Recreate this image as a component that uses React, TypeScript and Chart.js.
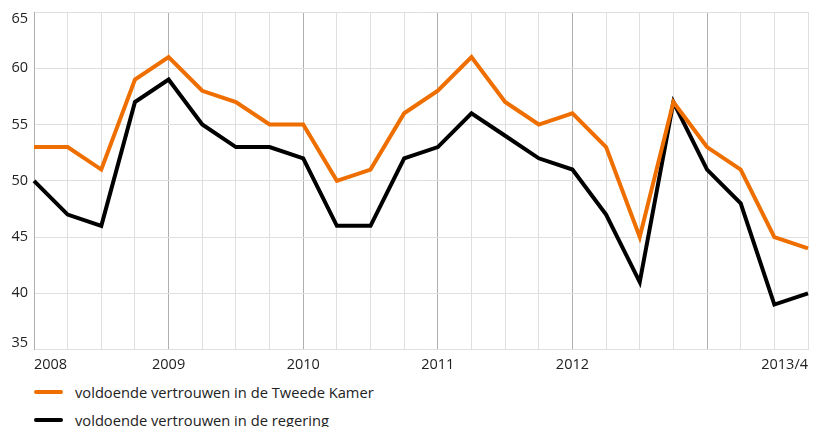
import React, { useEffect, useRef } from "react";
import { Chart, registerables } from "chart.js";

Chart.register(...registerables);

const categories = [
  "2008", "", "", "",
  "2009", "", "", "",
  "2010", "", "", "",
  "2011", "", "", "",
  "2012", "", "", "",
  "", "", "", "2013/4",
];
const yearLineIdx = [4, 8, 12, 16, 20];
const tweedeKamer = [53, 53, 51, 59, 61, 58, 57, 55, 55, 50, 51, 56, 58, 61, 57, 55, 56, 53, 45, 57, 53, 51, 45, 44];
const regering = [50, 47, 46, 57, 59, 55, 53, 53, 52, 46, 46, 52, 53, 56, 54, 52, 51, 47, 41, 57, 51, 48, 39, 40];
const seriesNames = ["voldoende vertrouwen in de Tweede Kamer", "voldoende vertrouwen in de regering"];
const seriesColors = ["#ee6f00", "#000000"];
const yMin = 35;
const yMax = 65;
const yStep = 5;

const FONT = "'Open Sans', 'Noto Sans', sans-serif";

const yLabelPlugin = {
  id: "yLabels",
  afterDraw(chart: any) {
    const ctx = chart.ctx;
    const y = chart.scales.y;
    const ticks = y.ticks;
    ctx.save();
    ctx.font = `14.5px ${FONT}`;
    ctx.fillStyle = "#222";
    ctx.textAlign = "right";
    ticks.forEach((t: any, i: number) => {
      const py = y.getPixelForValue(t.value);
      let base: CanvasTextBaseline = "middle";
      let off = 0;
      if (i === 0) { base = "bottom"; off = 1; }
      else if (i === ticks.length - 1) { base = "top"; off = 0; }
      ctx.textBaseline = base;
      ctx.fillText(String(t.value), chart.chartArea.left - 6, py + off);
    });
    ctx.restore();
  },
};

export default function App() {
  const ref = useRef<HTMLCanvasElement | null>(null);

  useEffect(() => {
    document.body.style.margin = "0";
    const chart = new Chart(ref.current as HTMLCanvasElement, {
      type: "line",
      data: {
        labels: categories,
        datasets: [
          {
            label: seriesNames[0],
            data: tweedeKamer,
            borderColor: seriesColors[0],
            backgroundColor: seriesColors[0],
            borderWidth: 4,
            pointRadius: 0,
            tension: 0,
          },
          {
            label: seriesNames[1],
            data: regering,
            borderColor: seriesColors[1],
            backgroundColor: seriesColors[1],
            borderWidth: 4,
            pointRadius: 0,
            tension: 0,
          },
        ],
      },
      options: {
        animation: false,
        responsive: false,
        maintainAspectRatio: false,
        layout: { padding: { left: 34, top: 12, right: 7, bottom: 0 } },
        plugins: { legend: { display: false }, tooltip: { enabled: false } },
        scales: {
          x: {
            offset: false,
            grid: {
              drawTicks: false,
              lineWidth: 1,
              color: (c: any) => (yearLineIdx.includes(c.index) ? "#b0aeb0" : "#e0dfe0"),
            },
            border: { display: false },
            ticks: {
              autoSkip: false,
              maxRotation: 0,
              align: "inner",
              padding: 7,
              color: "#222",
              font: { family: FONT, size: 14.5 },
              callback: (_v: any, i: number) => categories[i],
            },
          },
          y: {
            min: yMin,
            max: yMax,
            grid: { drawTicks: false, color: "#e0dfe0" },
            border: { display: true, color: "#b0aeb0", width: 1 },
            ticks: { stepSize: yStep, display: false },
          },
        },
      },
      plugins: [yLabelPlugin],
    } as any);
    return () => chart.destroy();
  }, []);

  return (
    <div style={{ width: 815, fontFamily: FONT }}>
      <canvas ref={ref} width={815} height={381} style={{ display: "block" }} />
      <div style={{ paddingLeft: 34, marginTop: -3 }}>
        {seriesNames.map((n, i) => (
          <div key={n} style={{ display: "flex", alignItems: "center", height: 28, fontSize: 14.7, color: "#222" }}>
            <span style={{ display: "inline-block", width: 29, height: 4, borderRadius: 2, background: seriesColors[i], marginRight: 12 }} />
            <span>{n}</span>
          </div>
        ))}
      </div>
    </div>
  );
}
